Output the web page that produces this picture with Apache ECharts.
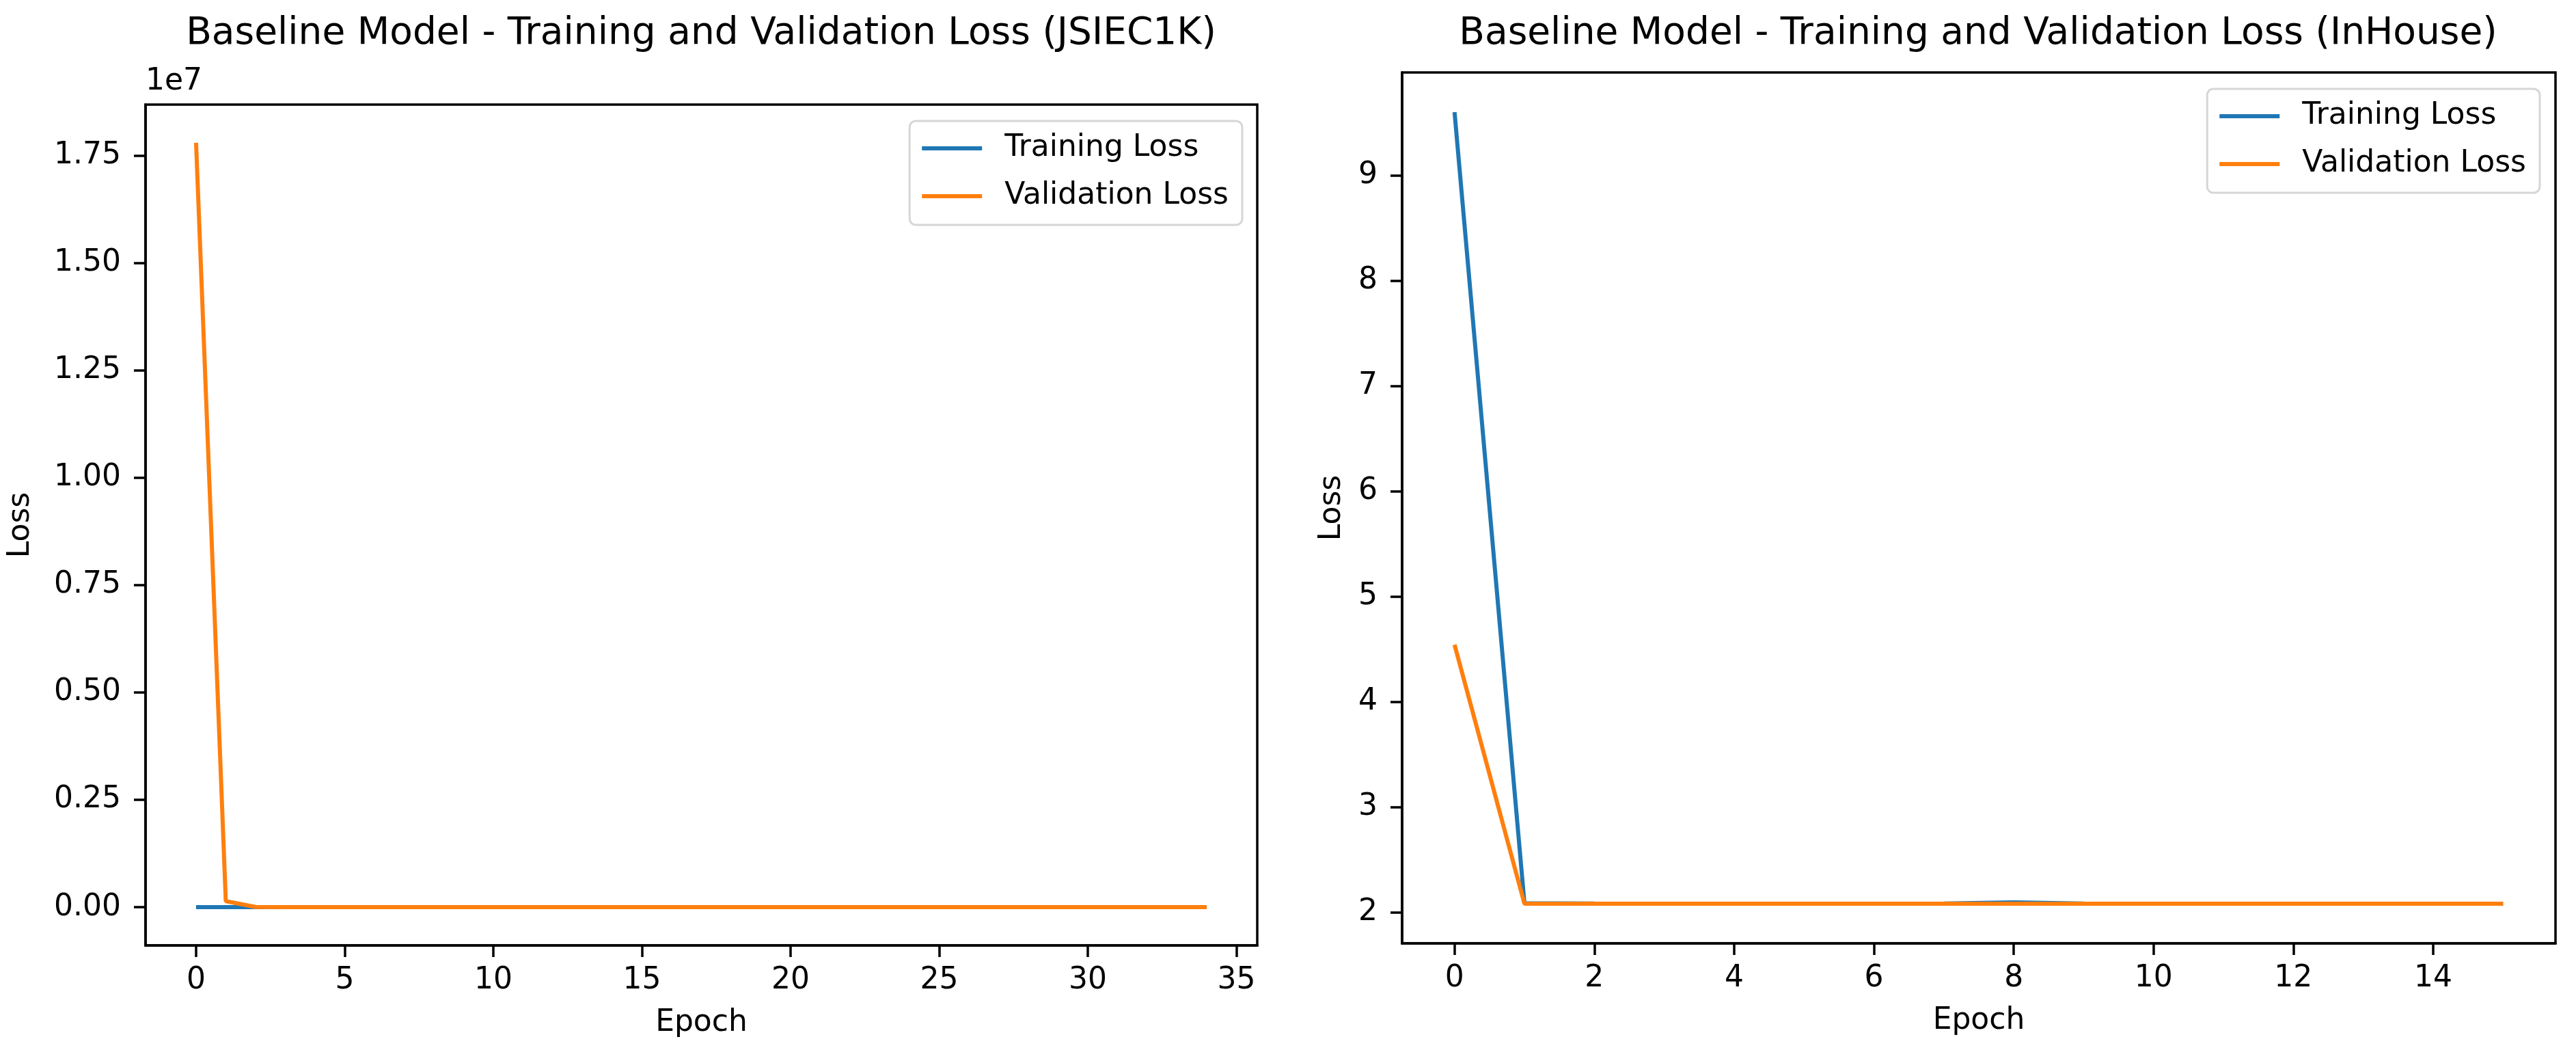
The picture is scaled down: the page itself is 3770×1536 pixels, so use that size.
<!DOCTYPE html>
<html>
<head>
<meta charset="utf-8">
<script src="https://cdn.jsdelivr.net/npm/echarts@6/dist/echarts.min.js"></script>
<style>
html,body{margin:0;padding:0;background:#fff;}
#chart{width:3770px;height:1536px;}
</style>
</head>
<body>
<div id="chart"></div>
<script>
// ---- Data ----
const titleJ = 'Baseline Model - Training and Validation Loss (JSIEC1K)';
const titleH = 'Baseline Model - Training and Validation Loss (InHouse)';
const seriesNames = ['Training Loss', 'Validation Loss'];

const epochsJ = [0,1,2,3,4,5,6,7,8,9,10,11,12,13,14,15,16,17,18,19,20,21,22,23,24,25,26,27,28,29,30,31,32,33,34];
const trainJ = [3.91,3.52,3.38,3.30,3.24,3.19,3.15,3.12,3.09,3.06,3.03,3.01,2.99,2.97,2.95,2.93,2.91,2.90,2.88,2.87,2.85,2.84,2.83,2.81,2.80,2.79,2.78,2.77,2.76,2.75,2.74,2.73,2.72,2.71,2.70];
const valJ = [17800000,140000,5230,612.4,88.1,41.7,19.3,12.6,9.84,7.21,6.05,5.42,4.97,4.63,4.41,4.18,4.02,3.95,3.88,3.81,3.77,3.74,3.70,3.69,3.66,3.64,3.63,3.61,3.60,3.59,3.58,3.57,3.57,3.56,3.55];

const epochsH = [0,1,2,3,4,5,6,7,8,9,10,11,12,13,14,15];
const trainH = [9.60,2.085,2.081,2.080,2.080,2.080,2.080,2.082,2.092,2.082,2.080,2.080,2.080,2.080,2.080,2.080];
const valH = [4.54,2.079,2.079,2.079,2.079,2.079,2.079,2.079,2.079,2.079,2.079,2.079,2.079,2.079,2.079,2.079];

const xTicksJ = [0,5,10,15,20,25,30,35];
const yTicksJ = [0,2500000,5000000,7500000,10000000,12500000,15000000,17500000];
const xTicksH = [0,2,4,6,8,10,12,14];
const yTicksH = [2,3,4,5,6,7,8,9];

// ---- Helpers ----
function pad(arrs) {
  const all = [].concat(...arrs);
  const lo = Math.min(...all), hi = Math.max(...all);
  const m = (hi - lo) * 0.05;
  return [lo - m, hi + m];
}
const FONT = 'DejaVu Sans';
const BLUE = '#1f77b4', ORANGE = '#ff7f0e';
const xrJ = pad([epochsJ]), yrJ = pad([trainJ, valJ]);
const xrH = pad([epochsH]), yrH = pad([trainH, valH]);

function xAxisCfg(grid, range, ticks) {
  return {
    type: 'value', gridIndex: grid, min: range[0], max: range[1], position: 'bottom',
    name: 'Epoch', nameLocation: 'middle', nameGap: 92,
    nameTextStyle: {fontFamily: FONT, fontSize: 44, color: '#000'},
    splitLine: {show: false},
    axisLine: {show: true, onZero: false, lineStyle: {color: '#000', width: 3.5}},
    axisTick: {show: true, inside: false, length: 17, customValues: ticks, lineStyle: {color: '#000', width: 3.5}},
    axisLabel: {show: true, customValues: ticks, margin: 30, fontFamily: FONT, fontSize: 44, color: '#000'}
  };
}
function yAxisCfg(grid, range, ticks, fmt, gap) {
  return {
    type: 'value', gridIndex: grid, min: range[0], max: range[1], position: 'left',
    name: 'Loss', nameLocation: 'middle', nameGap: gap, nameRotate: 90,
    nameTextStyle: {fontFamily: FONT, fontSize: 44, color: '#000'},
    splitLine: {show: false},
    axisLine: {show: true, onZero: false, lineStyle: {color: '#000', width: 3.5}},
    axisTick: {show: true, inside: false, length: 17, customValues: ticks, lineStyle: {color: '#000', width: 3.5}},
    axisLabel: {show: true, customValues: ticks, margin: 36, fontFamily: FONT, fontSize: 44, color: '#000', formatter: fmt}
  };
}
function lineSeries(name, xs, ys, xi, color) {
  return {
    type: 'line', name: name, xAxisIndex: xi, yAxisIndex: xi,
    data: xs.map((x, i) => [x, ys[i]]),
    showSymbol: false, symbol: 'none', animation: false,
    lineStyle: {color: color, width: 6}, itemStyle: {color: color}
  };
}
function legendCfg(right, top) {
  return {
    data: seriesNames, orient: 'vertical', right: right, top: top,
    icon: 'rect', itemWidth: 88, itemHeight: 6, itemGap: 18,
    padding: [14, 20, 16, 18],
    backgroundColor: '#fff', borderColor: '#d6d6d6', borderWidth: 3, borderRadius: 9,
    textStyle: {fontFamily: FONT, fontSize: 44, lineHeight: 52, color: '#000', padding: [0, 0, 0, 28]},
    selectedMode: false
  };
}

const chart = echarts.init(document.getElementById('chart'));
chart.setOption({
  backgroundColor: '#fff',
  animation: false,
  title: [
    {text: titleJ, left: 1026, top: 22, textAlign: 'center', padding: 0,
     textStyle: {fontFamily: FONT, fontSize: 55, fontWeight: 'normal', color: '#000'}},
    {text: titleH, left: 2895, top: 22, textAlign: 'center', padding: 0,
     textStyle: {fontFamily: FONT, fontSize: 55, fontWeight: 'normal', color: '#000'}},
    {text: '1e7', left: 213, top: 98, padding: 0,
     textStyle: {fontFamily: FONT, fontSize: 44, fontWeight: 'normal', color: '#000'}}
  ],
  legend: [legendCfg(1952, 177), legendCfg(53, 130)],
  grid: [
    {left: 213, top: 153, width: 1627, height: 1230, show: true, borderColor: '#000', borderWidth: 3.5, backgroundColor: '#fff', containLabel: false},
    {left: 2052, top: 106, width: 1688, height: 1274, show: true, borderColor: '#000', borderWidth: 3.5, backgroundColor: '#fff', containLabel: false}
  ],
  xAxis: [xAxisCfg(0, xrJ, xTicksJ), xAxisCfg(1, xrH, xTicksH)],
  yAxis: [
    yAxisCfg(0, yrJ, yTicksJ, v => (v / 1e7).toFixed(2), 160),
    yAxisCfg(1, yrH, yTicksH, v => String(Math.round(v)), 80)
  ],
  series: [
    lineSeries(seriesNames[0], epochsJ, trainJ, 0, BLUE),
    lineSeries(seriesNames[1], epochsJ, valJ, 0, ORANGE),
    lineSeries(seriesNames[0], epochsH, trainH, 1, BLUE),
    lineSeries(seriesNames[1], epochsH, valH, 1, ORANGE)
  ]
});
</script>
</body>
</html>
